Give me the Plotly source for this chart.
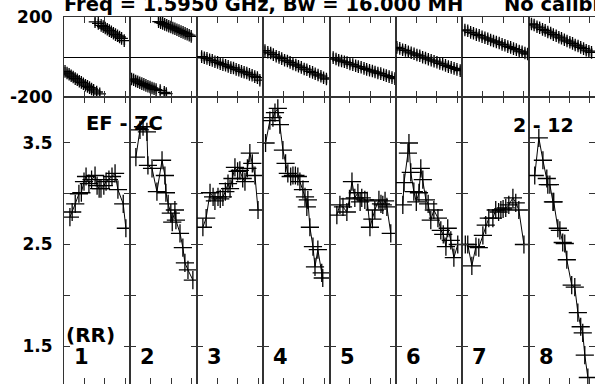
import plotly.graph_objects as go
from plotly.subplots import make_subplots

# Titel und Beschriftungen
title_text = "Freq = 1.5950 GHz, Bw = 16.000 MH\u00a0\u00a0\u00a0\u00a0\u00a0\u00a0No calibra"
panel_names = ["1", "2", "3", "4", "5", "6", "7", "8"]
baseline_left = "EF - ZC"
baseline_right = "2 - 12"
pol_label = "(RR)"

# Phase [deg] je Panel (oben)
phase_time = [
    [0.05, 0.15, 0.25, 0.35, 0.45, 0.55, 0.65, 0.75, 0.85, 0.95, 1.05, 1.15, 1.25, 1.35, 1.45, 1.52,
     1.60, 1.68, 1.75, 1.82, 1.92, 2.02, 2.12, 2.22, 2.32, 2.42, 2.52, 2.62, 2.72, 2.82, 2.95],
    [0.06, 0.16, 0.26, 0.36, 0.46, 0.56, 0.66, 0.76, 0.86, 0.96, 1.06, 1.16, 1.26, 1.38, 1.46, 1.48,
     1.58, 1.66, 1.68, 1.76, 1.78, 1.88, 1.98, 2.08, 2.18, 2.28, 2.38, 2.48, 2.58, 2.68, 2.78, 2.88, 2.98],
    [0.24, 0.37, 0.50, 0.63, 0.76, 0.89, 1.02, 1.15, 1.28, 1.41, 1.54, 1.67, 1.80, 1.93, 2.06, 2.19,
     2.32, 2.45, 2.58, 2.71, 2.84, 2.97, 3.09],
    [0.09, 0.23, 0.37, 0.50, 0.64, 0.78, 0.91, 1.05, 1.19, 1.32, 1.46, 1.60, 1.73, 1.87, 2.01, 2.14,
     2.28, 2.42, 2.55, 2.69, 2.83, 2.96, 3.10],
    [0.18, 0.32, 0.45, 0.59, 0.73, 0.86, 1.00, 1.14, 1.28, 1.41, 1.55, 1.69, 1.82, 1.96, 2.10, 2.23,
     2.37, 2.51, 2.65, 2.78, 2.92, 3.06, 3.20],
    [0.05, 0.19, 0.33, 0.47, 0.61, 0.75, 0.89, 1.03, 1.17, 1.31, 1.45, 1.59, 1.73, 1.87, 2.01, 2.15,
     2.29, 2.43, 2.57, 2.71, 2.85, 2.99, 3.15],
    [0.13, 0.27, 0.41, 0.55, 0.69, 0.83, 0.97, 1.11, 1.25, 1.39, 1.53, 1.67, 1.81, 1.95, 2.09, 2.23,
     2.37, 2.51, 2.65, 2.79, 2.93, 3.07, 3.20],
    [0.14, 0.27, 0.41, 0.54, 0.68, 0.81, 0.94, 1.08, 1.21, 1.35, 1.48, 1.61, 1.75, 1.88, 2.02, 2.15,
     2.28, 2.42, 2.55, 2.69, 2.82, 2.95, 3.08],
]
phase_deg = [
    [-72, -80, -86, -94, -100, -108, -114, -121, -127, -134, -141, -147, -153, -160, -166, 176,
     -175, 168, -184, 158, 152, 145, 139, 132, 126, 119, 112, 106, 100, 93, 82],
    [-110, -114, -120, -124, -129, -133, -137, -142, -146, -150, -155, -159, -163, 177, -168, 172,
     168, -177, 163, -183, 159, 154, 150, 145, 141, 136, 132, 127, 123, 118, 114, 109, 103],
    [2, -4, -7, -14, -17, -24, -27, -33, -38, -41, -47, -53, -55, -62, -66, -72,
     -76, -80, -87, -91, -98, -103, -116],
    [32, 24, 20, 12, 4, -2, -8, -16, -20, -27, -35, -40, -46, -52, -60, -64,
     -72, -77, -84, -90, -96, -104, -110],
    [-3, -10, -16, -20, -24, -28, -35, -38, -44, -48, -51, -57, -62, -66, -70, -75,
     -80, -83, -89, -93, -98, -103, -108],
    [48, 43, 36, 33, 26, 21, 16, 10, 6, -1, -5, -11, -16, -21, -26, -32,
     -36, -42, -48, -52, -57, -62, -68],
    [135, 131, 123, 119, 112, 108, 101, 96, 91, 85, 80, 75, 70, 63, 59, 52,
     48, 42, 37, 30, 26, 20, 15],
    [165, 160, 151, 146, 138, 133, 125, 120, 112, 106, 99, 94, 86, 80, 74, 68,
     60, 55, 48, 42, 34, 29, 23],
]

# Amplitude je Panel (unten)
amp_time = [
    [0.29, 0.40, 0.55, 0.73, 0.85, 0.98, 1.08, 1.22, 1.35, 1.52, 1.62, 1.72, 1.81, 1.95, 2.06, 2.20,
     2.35, 2.50, 2.64, 2.90, 3.03],
    [0.27, 0.47, 0.62, 0.81, 0.86, 1.06, 1.30, 1.55, 1.69, 1.74, 1.85, 1.98, 2.05, 2.18, 2.23, 2.43,
     2.57, 2.67, 2.82, 3.06],
    [0.30, 0.46, 0.65, 0.80, 0.89, 1.04, 1.15, 1.28, 1.40, 1.53, 1.63, 1.75, 1.87, 2.00, 2.11, 2.25,
     2.36, 2.48, 2.60, 2.72, 2.85, 3.00],
    [0.12, 0.33, 0.48, 0.58, 0.72, 0.82, 0.97, 1.10, 1.21, 1.35, 1.46, 1.58, 1.70, 1.80, 1.95, 2.05,
     2.14, 2.19, 2.29, 2.44, 2.54, 2.68, 2.87, 2.92],
    [0.36, 0.51, 0.66, 0.85, 0.98, 1.10, 1.24, 1.39, 1.50, 1.58, 1.73, 1.85, 1.98, 2.10, 2.22, 2.42,
     2.52, 2.61, 2.72, 2.81, 3.00],
    [0.34, 0.40, 0.59, 0.64, 0.73, 0.88, 1.00, 1.13, 1.22, 1.32, 1.47, 1.58, 1.71, 1.86, 2.06, 2.20,
     2.32, 2.45, 2.54, 2.69, 2.84, 3.03],
    [0.15, 0.27, 0.47, 0.67, 0.81, 1.01, 1.15, 1.30, 1.50, 1.64, 1.78, 1.89, 2.00, 2.13, 2.28, 2.48,
     2.62, 2.77, 3.02],
    [0.30, 0.50, 0.70, 0.89, 0.94, 1.04, 1.19, 1.23, 1.43, 1.53, 1.67, 1.77, 1.87, 2.11, 2.26, 2.41,
     2.55, 2.65, 2.75, 2.90],
]
amp_val = [
    [2.77, 2.82, 2.90, 3.00, 3.01, 3.12, 3.17, 3.10, 3.14, 3.18, 3.08, 3.05, 3.05, 3.08, 3.12, 3.14,
     3.17, 3.20, 3.04, 2.90, 2.66],
    [3.36, 3.63, 3.66, 3.61, 3.28, 3.25, 3.02, 3.33, 3.18, 3.01, 2.90, 2.81, 2.72, 2.84, 2.74, 2.61,
     2.47, 2.32, 2.25, 2.15],
    [2.67, 2.76, 3.01, 2.97, 2.93, 2.97, 2.95, 2.97, 3.02, 3.10, 3.05, 3.15, 3.26, 3.22, 3.23, 3.15,
     3.12, 3.25, 3.40, 3.30, 3.18, 2.84],
    [3.50, 3.72, 3.75, 3.80, 3.84, 3.68, 3.43, 3.30, 3.20, 3.17, 3.18, 3.18, 3.17, 3.12, 3.04, 2.97,
     2.87, 2.94, 2.67, 2.48, 2.28, 2.45, 2.22, 2.17],
    [2.79, 2.89, 2.87, 2.82, 2.95, 3.12, 2.96, 3.01, 2.92, 2.96, 2.94, 2.93, 2.67, 2.75, 2.84, 2.94,
     2.90, 2.89, 2.93, 2.87, 2.61],
    [2.89, 3.11, 3.40, 3.50, 3.21, 3.02, 2.92, 3.01, 3.25, 3.14, 2.94, 2.90, 2.74, 2.84, 2.76, 2.64,
     2.60, 2.48, 2.66, 2.54, 2.37, 2.50],
    [2.50, 2.50, 2.29, 2.48, 2.47, 2.59, 2.69, 2.76, 2.76, 2.84, 2.82, 2.84, 2.85, 2.86, 2.89, 2.96,
     2.91, 2.84, 2.50],
    [3.18, 3.55, 3.33, 3.15, 3.09, 3.09, 2.92, 2.92, 2.66, 2.64, 2.52, 2.51, 2.35, 2.10, 2.08, 1.83,
     1.69, 1.63, 1.41, 1.19],
]

W, H = 595, 384
ML, MT = 64, 17
PW, PH = W - ML, H - MT


def px_x(px):
    return (px - ML) / PW


def px_y(py):
    return (H - py) / PH


font_bold = dict(family="DejaVu Sans", size=17, color="black", weight="bold")

fig = make_subplots(rows=2, cols=8, horizontal_spacing=0, vertical_spacing=0,
                    row_heights=[80 / PH, 287 / PH])

for i in range(8):
    fig.add_trace(go.Scatter(
        x=phase_time[i], y=phase_deg[i], mode="markers",
        marker=dict(symbol="cross-thin", size=9, line=dict(color="black", width=1.3)),
        error_y=dict(type="constant", value=22, color="#8a8a8a", thickness=2, width=0),
        showlegend=False), row=1, col=i + 1)
    fig.add_trace(go.Scatter(
        x=amp_time[i], y=amp_val[i], mode="lines+markers",
        line=dict(color="black", width=1),
        marker=dict(symbol="cross-thin", size=13, line=dict(color="black", width=1.3)),
        showlegend=False), row=2, col=i + 1)

axis_style = dict(showline=True, linecolor="#333", linewidth=1, mirror="ticks",
                  ticks="inside", ticklen=6, tickwidth=1.3, tickcolor="#333",
                  showgrid=False, zeroline=False, automargin=False)

fig.update_xaxes(range=[0, 3.25], tickvals=[1, 2, 3], showticklabels=False, **axis_style)
fig.update_yaxes(showticklabels=False, **axis_style)
fig.update_yaxes(row=1, range=[-200, 200], tickvals=[-200, 200], ticktext=["-200", "200"],
                 zeroline=True, zerolinecolor="black", zerolinewidth=1)
fig.update_yaxes(row=2, range=[1.126, 3.953], tickvals=[1.5, 2.0, 2.5, 3.0, 3.5],
                 ticktext=["1.5", "", "2.5", "", "3.5"])
fig.update_yaxes(col=1, showticklabels=True, tickfont=font_bold, ticklabelstandoff=7,
                 ticklabeloverflow="allow")

annotations = [
    dict(text=title_text, x=px_x(62), y=px_y(5), xanchor="left", yanchor="middle",
         font=dict(font_bold, size=19.5)),
    dict(text=baseline_left, x=px_x(84), y=px_y(124), xanchor="left", yanchor="middle",
         font=dict(font_bold, size=19.5)),
    dict(text=baseline_right, x=px_x(576), y=px_y(125), xanchor="right", yanchor="middle",
         font=dict(font_bold, size=19)),
    dict(text=pol_label, x=px_x(64), y=px_y(335), xanchor="left", yanchor="middle",
         font=dict(font_bold, size=20)),
]
for i, name in enumerate(panel_names):
    annotations.append(dict(text=name, x=px_x(ML + i * PW / 8 + 8), y=px_y(357),
                            xanchor="left", yanchor="middle",
                            font=dict(font_bold, size=21)))
for a in annotations:
    a.update(xref="paper", yref="paper", showarrow=False)

fig.update_layout(
    width=W, height=H,
    margin=dict(l=ML, r=0, t=MT, b=0),
    plot_bgcolor="white", paper_bgcolor="white",
    annotations=annotations,
)

# body-Rand des Browsers entfernen, damit die Figur bei (0, 0) beginnt
fig.write_html("out.html", config={"displayModeBar": False},
               post_script="document.body.style.margin = '0';")
